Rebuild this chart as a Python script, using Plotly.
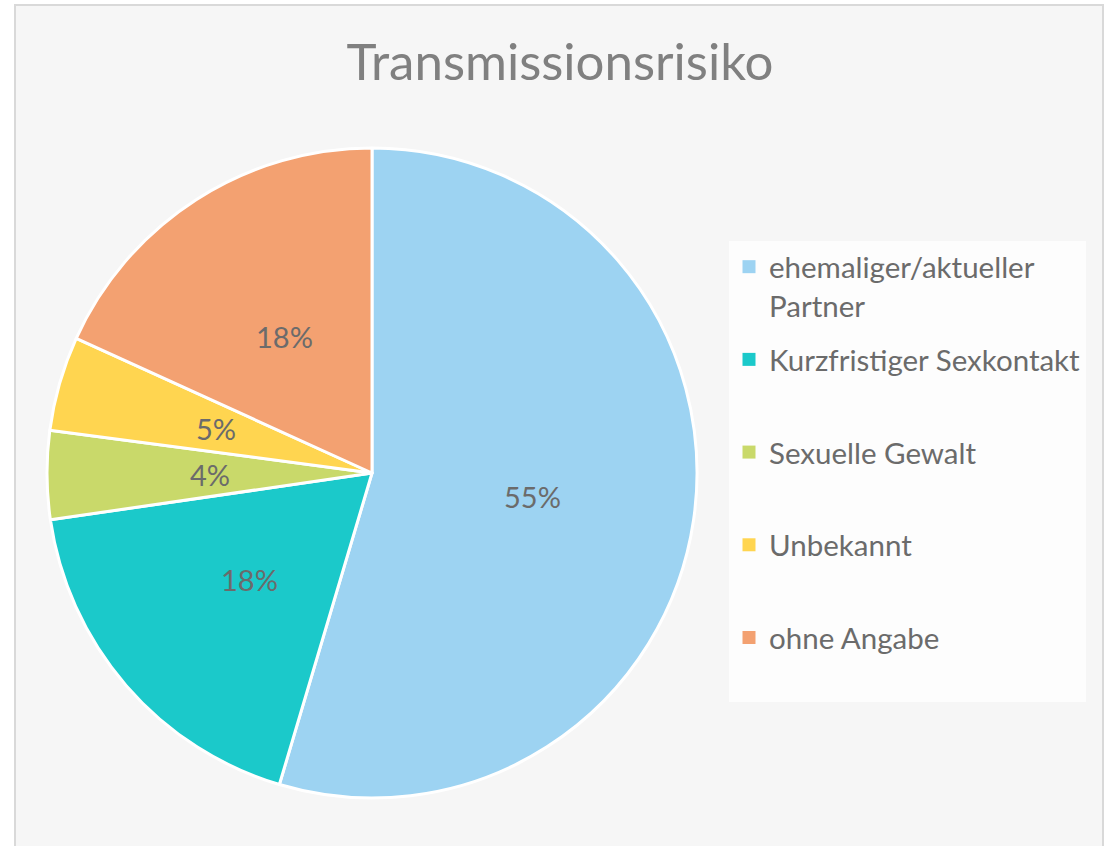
import math
import plotly.graph_objects as go

# ---- data ----
categories = ["ehemaliger/aktueller Partner", "Kurzfristiger Sexkontakt",
              "Sexuelle Gewalt", "Unbekannt", "ohne Angabe"]
legend_labels = ["ehemaliger/aktueller<br>Partner", "Kurzfristiger Sexkontakt<br>&nbsp;",
                 "Sexuelle Gewalt<br>&nbsp;", "Unbekannt<br>&nbsp;", "ohne Angabe<br>&nbsp;"]
values = [54.6, 18.1, 4.4, 4.7, 18.2]
colors = ["#9dd3f2", "#1bc9ca", "#c9d96a", "#ffd550", "#f3a171"]
title_text = "Transmissionsrisiko"

W, H = 1109, 846
FONT = "Lato"
PIE_X = [47 / W, 697 / W]
PIE_Y = [1 - 798 / H, 1 - 148 / H]

fig = go.Figure()
fig.add_trace(go.Pie(
    labels=categories, values=values, sort=False, direction="clockwise", rotation=0,
    marker=dict(colors=colors, line=dict(color="white", width=3)),
    textinfo="none",
    domain=dict(x=PIE_X, y=PIE_Y),
    showlegend=False, hoverinfo="label+percent",
))

# percentage labels at half radius on each slice's mid-angle (as in the original)
total = sum(values)
cx = (PIE_X[0] + PIE_X[1]) / 2 * W
cy = (1 - (PIE_Y[0] + PIE_Y[1]) / 2) * H
r = min((PIE_X[1] - PIE_X[0]) * W, (PIE_Y[1] - PIE_Y[0]) * H) / 2
annotations = []
cum = 0
for v in values:
    theta = 2 * math.pi * (cum + v / 2) / total
    cum += v
    px = cx + 0.5 * r * math.sin(theta)
    py = cy - 0.5 * r * math.cos(theta)
    annotations.append(dict(
        x=px / W, y=1 - py / H, xref="paper", yref="paper", showarrow=False,
        text=f"{round(100 * v / total)}%", xanchor="center", yanchor="middle",
        font=dict(family=FONT, size=29, color="#6b6b6b"),
    ))

for lab, name, col in zip(legend_labels, categories, colors):
    fig.add_trace(go.Scatter(
        x=[None], y=[None], mode="markers", name=lab, legendgroup=name,
        marker=dict(symbol="square", size=13, color=col, line=dict(width=0)),
        hoverinfo="skip", showlegend=True,
    ))

fig.update_layout(
    width=W, height=H, autosize=False,
    margin=dict(l=0, r=0, t=0, b=0),
    paper_bgcolor="white", plot_bgcolor="rgba(0,0,0,0)",
    xaxis=dict(visible=False), yaxis=dict(visible=False),
    title=dict(text=title_text, x=560 / W, xanchor="center", y=1 - 62 / H,
               yanchor="middle", yref="container",
               font=dict(family=FONT, size=51, color="#808080")),
    legend=dict(x=729 / W, xanchor="left", y=1 - 241 / H, yanchor="top",
                valign="top", tracegroupgap=13,
                bgcolor="rgba(255,255,255,0.75)", borderwidth=0,
                font=dict(family=FONT, size=29.5, color="#6b6b6b")),
    annotations=annotations,
    shapes=[dict(type="rect", xref="paper", yref="paper", layer="below",
                 x0=15 / W, x1=1103 / W, y0=-0.01, y1=1 - 5 / H,
                 fillcolor="#f6f6f6", line=dict(color="#d9d9d9", width=2))],
)

fig.write_html("out.html")
